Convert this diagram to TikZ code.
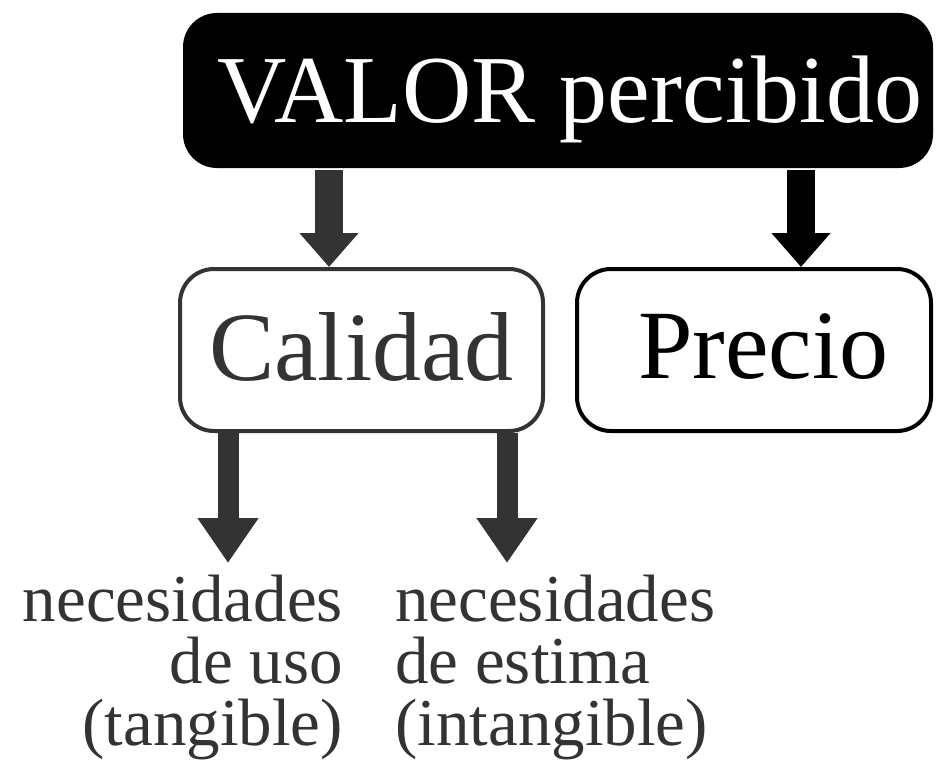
\documentclass[tikz,border=0pt]{standalone}
\usepackage{fontspec}
\setmainfont{Liberation Serif}
\usetikzlibrary{arrows.meta}
\definecolor{darkgr}{HTML}{333333}

\begin{document}
\begin{tikzpicture}[x=1pt, y=-1pt,
  bigbox/.style={rounded corners=34pt, line width=4pt, inner sep=0pt},
  bigarrow/.style={line width=28pt, -{Triangle[width=57pt, length=34pt]}},
  smallarrow/.style={line width=21pt, -{Triangle[width=58pt, length=45pt]}},
  needtext/.style={font=\fontsize{67}{62}\selectfont, text=darkgr, inner sep=0pt}]

  \useasboundingbox (0,0) rectangle (936,760);

  %% boxes
  \node[bigbox, fill=black, text=white, minimum width=750pt, minimum height=155pt,
        text height=63pt, text depth=0pt, font=\fontsize{96}{96}\selectfont]
        (valor) at (558,90.5) {\hspace*{24pt}VALOR percibido};
  \node[bigbox, draw=darkgr, text=darkgr, minimum width=363pt, minimum height=162pt,
        text height=60pt, text depth=0pt, font=\fontsize{98}{98}\selectfont]
        (calidad) at (361.5,350) {Calidad};
  \node[bigbox, draw=black, text=black, minimum width=354pt, minimum height=162pt,
        text height=56pt, text depth=0pt, font=\fontsize{98}{98}\selectfont]
        (precio) at (754,350) {\hspace*{19pt}Precio};

  %% needs
  \node[needtext, align=right, anchor=base east] (uso) at (343,745)
        {necesidades\\de uso\\(tangible)};
  \node[needtext, align=left, anchor=base west] (estima) at (395,745)
        {necesidades\\de estima\\(intangible)};

  \coordinate (usotip) at (228,563);
  \coordinate (estimatip) at (507,563);

  %% arrows
  \draw[bigarrow, darkgr] (valor.south -| 329,0) -- (calidad.north -| 329,0); % VALOR->Calidad
  \draw[bigarrow, black] (valor.south -| 801,0) -- (precio.north -| 801,0); % VALOR->Precio
  \draw[smallarrow, darkgr] (calidad.south -| usotip) -- (usotip); % Calidad->uso
  \draw[smallarrow, darkgr] (calidad.south -| estimatip) -- (estimatip); % Calidad->estima

\end{tikzpicture}
\end{document}
